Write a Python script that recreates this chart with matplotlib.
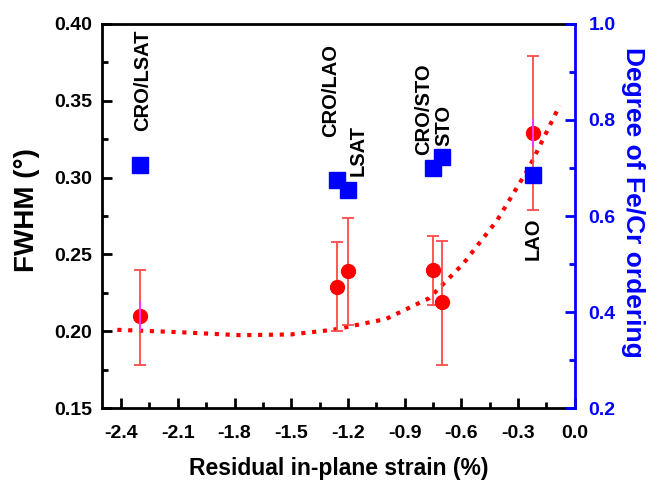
import matplotlib
matplotlib.use("Agg")
import matplotlib.pyplot as plt
from matplotlib.ticker import MultipleLocator

plt.rcParams['font.family'] = ['Liberation Sans', 'DejaVu Sans']
plt.rcParams['font.weight'] = 'bold'

# FWHM data (left axis)
strain = [-2.30, -1.26, -1.20, -0.75, -0.70, -0.22]
fwhm = [0.210, 0.229, 0.239, 0.240, 0.219, 0.329]
err_lo = [0.032, 0.029, 0.035, 0.023, 0.041, 0.050]
err_hi = [0.030, 0.029, 0.035, 0.022, 0.040, 0.050]

# small magenta bars on two points
mag_x = [-2.30, -0.22]
mag_y = [0.210, 0.329]
mag_err = [0.010, 0.009]

# ordering degree (right axis)
ord_x = [-2.30, -1.26, -1.20, -0.75, -0.70, -0.22]
ord_y = [0.706, 0.675, 0.654, 0.700, 0.723, 0.685]

# dotted fit curve
fit_x = [-2.42, -2.10, -1.77, -1.50, -1.28, -1.00, -0.77, -0.59, -0.41, -0.24, -0.08]
fit_y = [0.2010, 0.1995, 0.1975, 0.1980, 0.2010, 0.2080, 0.2216, 0.2440, 0.2724, 0.3070, 0.3470]

labels = ["CRO/LSAT", "CRO/LAO", "LSAT", "CRO/STO", "STO", "LAO"]
lab_x = [-2.285, -1.29, -1.145, -0.80, -0.695, -0.22]
lab_y = [0.396, 0.387, 0.334, 0.374, 0.347, 0.274]

fig = plt.figure(figsize=(6.51, 4.86), dpi=100)
ax = fig.add_axes([0.157, 0.160, 0.726, 0.791])

ax.plot(fit_x, fit_y, color='#ff0000', lw=3, linestyle=(0, (1, 1.6)), zorder=2)
ax.errorbar(strain, fwhm, yerr=[err_lo, err_hi], fmt='o', color='#ff0000',
            ecolor='#ff4a4a', elinewidth=1.3, capsize=4.5, capthick=1.3,
            markersize=10, zorder=3)
ax.errorbar(mag_x, mag_y, yerr=mag_err, fmt='none', ecolor='#ff33ff',
            elinewidth=1.5, capsize=0, zorder=4)

for t, x, y in zip(labels, lab_x, lab_y):
    ax.text(x, y, t, rotation=90, ha='center', va='top', fontsize=14.5,
            fontweight='bold', color='black')

ax.set_xlim(-2.5, 0.0)
ax.set_ylim(0.15, 0.40)
ax.xaxis.set_minor_locator(MultipleLocator(0.15))
ax.yaxis.set_minor_locator(MultipleLocator(0.025))
ax.set_xticks([-2.4, -2.1, -1.8, -1.5, -1.2, -0.9, -0.6, -0.3, 0.0])
ax.set_xticklabels(['-2.4', '-2.1', '-1.8', '-1.5', '-1.2', '-0.9', '-0.6', '-0.3', '0.0'])
ax.set_yticks([0.15, 0.20, 0.25, 0.30, 0.35, 0.40])
ax.set_yticklabels(['0.15', '0.20', '0.25', '0.30', '0.35', '0.40'])
ax.tick_params(which='both', direction='in', width=2, labelsize=14, top=False, right=False)
ax.tick_params(axis='x', pad=12)
ax.tick_params(axis='y', pad=7)
ax.tick_params(which='major', length=7)
ax.tick_params(which='minor', length=4)
for s in ['left', 'bottom', 'top']:
    ax.spines[s].set_linewidth(2)
ax.spines['right'].set_visible(False)
ax.set_xlabel('Residual in-plane strain (%)', fontsize=16.5, fontweight='bold')
ax.xaxis.set_label_coords(0.5, -0.128)
ax.set_ylabel('FWHM (°)', fontsize=20, fontweight='bold')
ax.yaxis.set_label_coords(-0.131, 0.516)

ax2 = ax.twinx()
ax2.plot(ord_x, ord_y, 's', color='#0000ff', markersize=11, zorder=5)
ax2.set_ylim(0.2, 1.0)
ax2.set_xlim(-2.5, 0.0)
ax2.yaxis.set_minor_locator(MultipleLocator(0.1))
ax2.set_yticks([0.2, 0.4, 0.6, 0.8, 1.0])
ax2.set_yticklabels(['0.2', '0.4', '0.6', '0.8', '1.0'])
ax2.tick_params(which='both', direction='in', width=2, labelsize=14, colors='#0000ff', pad=10)
ax2.tick_params(which='major', length=7)
ax2.tick_params(which='minor', length=4)
for s in ['left', 'bottom', 'top']:
    ax2.spines[s].set_visible(False)
ax2.spines['right'].set_color('#0000ff')
ax2.spines['right'].set_linewidth(2)
ax2.set_ylabel('Degree of Fe/Cr ordering', fontsize=19, fontweight='bold',
               color='#0000ff', rotation=270, va='center')
ax2.yaxis.set_label_coords(1.123, 0.535)

fig.savefig('out.png', dpi=100)
